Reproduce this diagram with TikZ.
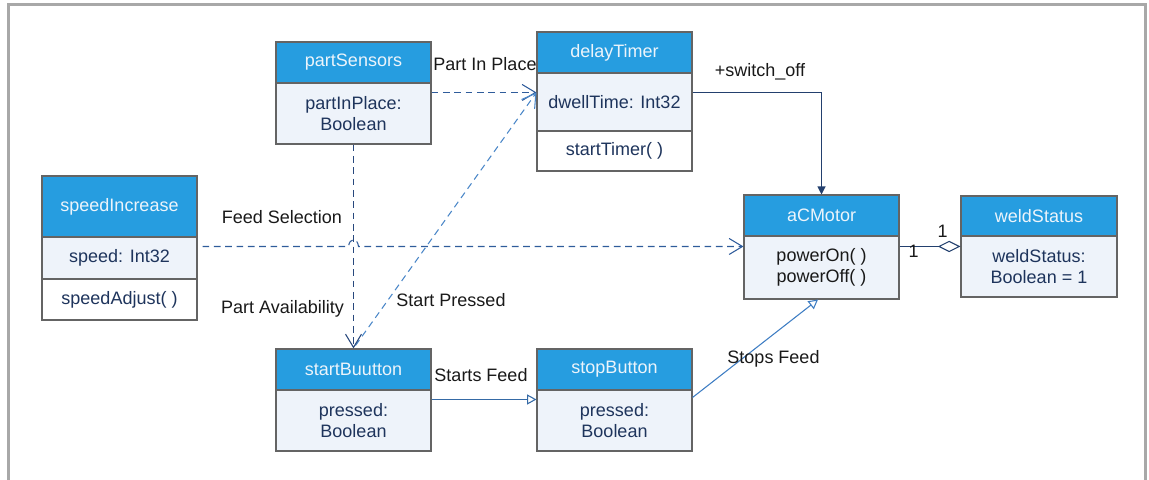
\documentclass[tikz,border=0pt]{standalone}
\usepackage{fontspec}
\setmainfont{Liberation Sans}
\usetikzlibrary{arrows.meta,calc}

\definecolor{framegray}{RGB}{168,168,168}
\definecolor{boxline}{RGB}{100,100,100}
\definecolor{hdrblue}{RGB}{38,157,224}
\definecolor{hdrtext}{RGB}{236,244,251}
\definecolor{attfill}{RGB}{238,243,250}
\definecolor{navytext}{RGB}{30,52,92}
\definecolor{lbltext}{RGB}{25,25,25}
\definecolor{depline}{RGB}{47,92,155}
\definecolor{depdark}{RGB}{40,72,125}
\definecolor{deplight}{RGB}{75,135,200}
\definecolor{assocdark}{RGB}{35,64,110}
\definecolor{assoclight}{RGB}{62,125,195}

\begin{document}
\begin{tikzpicture}[
  x=0.75pt, y=-0.75pt,
  font=\fontsize{13.5}{16}\selectfont,
  hgt/.style={minimum height=#1*0.75pt},
  wid/.style={minimum width=#1*0.75pt},
  cls/.style={draw=boxline, line width=0.8pt, inner sep=0pt, align=center,
              wid=155, text=navytext},
  hdr/.style={cls, fill=hdrblue, text=hdrtext},
  att/.style={cls, fill=attfill},
  ops/.style={cls, fill=white},
  lbl/.style={text=lbltext, inner sep=0pt},
  dep/.style={line width=0.8pt, dash pattern=on 5pt off 3.5pt,
              -{Straight Barb[length=10pt,width=12pt,line width=0.8pt]}},
  gen/.style={line width=0.8pt,
              -{Triangle[open,length=7pt,width=7.5pt,fill=white]}},
  nav/.style={line width=0.8pt, -{Triangle[length=6pt,width=6pt]}},
  agg/.style={line width=0.8pt,
              -{Diamond[open,length=17pt,width=8.5pt,fill=white]}}
]
\useasboundingbox (0,0) rectangle (1149,479);

% outer frame, open at the bottom
\draw[framegray, line width=2pt] (8.7,485) -- (8.7,4.7) -- (1145.8,4.7) -- (1145.8,485);

% partSensors
\node[hdr, hgt=41] (ps)  at (353.5,62.5)  {partSensors};
\node[att, hgt=61] (psA) at (353.5,113.5) {partInPlace:\\Boolean};

% delayTimer
\node[hdr, hgt=41] (dt)  at (614.5,52.5) {delayTimer};
\node[att, hgt=58] (dtA) at (614.5,102)  {dwellTime: Int32};
\node[ops, hgt=40] (dtO) at (614.5,151)  {startTimer( )};

% speedIncrease
\node[hdr, hgt=61] (si)  at (119.5,206.5) {speedIncrease};
\node[att, hgt=42] (siA) at (119.5,258)   {speed: Int32};
\node[ops, hgt=41] (siO) at (119.5,299.5) {speedAdjust( )};

% aCMotor
\node[hdr, hgt=41] (acm)  at (821.5,215.5) {aCMotor};
\node[att, hgt=63, text=lbltext] (acmA) at (821.5,267.5) {powerOn( )\\powerOff( )};

% weldStatus
\node[hdr, hgt=40, wid=156] (ws)  at (1039,216)   {weldStatus};
\node[att, hgt=61, wid=156] (wsA) at (1039,266.5) {weldStatus:\\Boolean = 1};

% startBuutton
\node[hdr, hgt=41] (sb)  at (353.5,369.5) {startBuutton};
\node[att, hgt=61] (sbA) at (353.5,420.5) {pressed:\\Boolean};

% stopButton
\node[hdr, hgt=41] (sp)  at (614.5,369.5) {stopButton};
\node[att, hgt=61] (spA) at (614.5,420.5) {pressed:\\Boolean};

% dependencies (dashed)
\draw[dep, depline] ($(psA.north east)+(0,10)$) -- ($(dtA.north west)+(0,20)$);
\draw[dep, deplight] ($(sb.north)+(2,-3)$) -- ($(dtA.north west)+(0,20)$);
\draw[dep, depdark] (psA.south) -- (sb.north);
\draw[dep, depline] ($(siA.north east)+(5,10)$) coordinate (fsA)
  -- ($(fsA -| psA.south)+(-5,0)$) coordinate (hopA)
  .. controls +(1,-9) and +(-1,-9) .. ($(hopA)+(10,0)$)
  -- ($(acmA.north west)+(0,11)$);

% associations (solid)
\coordinate (swA) at ($(dtA.north east)+(0,20)$);
\draw[nav, assocdark] (swA) -- (swA -| acm.north) -- (acm.north);
\draw[gen, assoclight!85!black] ($(sbA.north east)+(0,10)$) -- ($(spA.north west)+(0,10)$);
\draw[gen, assoclight] ($(spA.north east)+(0,8)$) -- ($(acmA.south)+(-3.5,0)$);
\draw[agg, assocdark] ($(acmA.north east)+(0,11)$) -- ($(wsA.north west)+(0,11)$);

% connector labels
\node[lbl] (lPIP) at (485,64)    {Part In Place};
\node[lbl] (lSO)  at (760,72)    {+switch\_off};
\node[lbl] (lFS)  at (282,217)   {Feed Selection};
\node[lbl] (lPA)  at (282.5,309) {Part Availability};
\node[lbl] (lSP)  at (451,300)   {Start Pressed};
\node[lbl] (lSF)  at (481,375)   {Starts Feed};
\node[lbl] (lStF) at (773.5,358.5) {Stops Feed};
\node[lbl] (m1)   at (913.5,251) {1};
\node[lbl] (m2)   at (942.5,231) {1};
\end{tikzpicture}
\end{document}
